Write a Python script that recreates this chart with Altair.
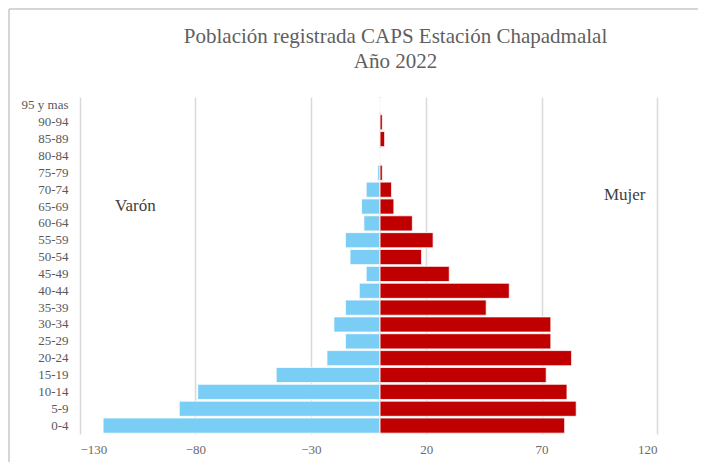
import altair as alt
import pandas as pd

ages = ["0-4", "5-9", "10-14", "15-19", "20-24", "25-29", "30-34", "35-39",
        "40-44", "45-49", "50-54", "55-59", "60-64", "65-69", "70-74", "75-79",
        "80-84", "85-89", "90-94", "95 y mas"]
varon = [-120, -87, -79, -45, -23, -15, -20, -15, -9, -6, -13, -15, -7, -8, -6, -1, 0, 0, 0, 0]
mujer = [80, 85, 81, 72, 83, 74, 74, 46, 56, 30, 18, 23, 14, 6, 5, 1, 0, 2, 1, 0]
x_ticks = [-130, -80, -30, 20, 70, 120]
title_lines = ["Población registrada CAPS Estación Chapadmalal", "Año 2022"]
labels_text = ["Varón", "Mujer"]
labels_x = [-106, 106]
labels_age = ["65-69", "70-74"]
labels_dy = [-1, 5]

rows = []
for a, v, m in zip(ages, varon, mujer):
    rows.append({"age": a, "sexo": "Varón", "valor": v})
    rows.append({"age": a, "sexo": "Mujer", "valor": m})
df = pd.DataFrame(rows)

order = list(reversed(ages))
W, H = 577, 337
FONT = "Liberation Serif"

xscale = alt.Scale(domain=[-130, 120], nice=False, zero=False)
yscale = alt.Scale(domain=order, paddingInner=0.1, paddingOuter=0.05)

bars = alt.Chart(df).mark_bar(stroke="white", strokeWidth=0.8).encode(
    x=alt.X("valor:Q", scale=xscale, stack=None,
            axis=alt.Axis(values=x_ticks, title=None, grid=True, gridColor="#d9d9d9",
                          gridWidth=1.5, domain=False, ticks=False, labelFont=FONT,
                          labelFontSize=13, labelColor="#6a6a6a", labelPadding=9)),
    y=alt.Y("age:N", sort=order, scale=yscale,
            axis=alt.Axis(title=None, domain=False, ticks=False, labelFont=FONT,
                          labelFontSize=13, labelColor="#595959", labelPadding=12)),
    color=alt.Color("sexo:N", scale=alt.Scale(domain=["Varón", "Mujer"],
                                              range=["#7ACDF5", "#C00000"]), legend=None),
)

zero = alt.Chart(pd.DataFrame({"z": [0]})).mark_rule(color="#d9d9d9", strokeWidth=1.5).encode(
    x=alt.X("z:Q", scale=xscale)
)

text_layers = []
for t, xv, ag, dy in zip(labels_text, labels_x, labels_age, labels_dy):
    d = pd.DataFrame({"t": [t], "x": [xv], "age": [ag]})
    text_layers.append(
        alt.Chart(d).mark_text(font=FONT, fontSize=17, color="#404040", align="center", dy=dy).encode(
            x=alt.X("x:Q", scale=xscale),
            y=alt.Y("age:N", sort=order, scale=yscale),
            text="t:N",
        )
    )

title_layers = []
for i, line in enumerate(title_lines):
    d = pd.DataFrame({"t": [line]})
    title_layers.append(
        alt.Chart(d).mark_text(font=FONT, fontSize=21, color="#5f5f5f", align="center",
                               baseline="middle").encode(
            x=alt.value(W / 2 + 27), y=alt.value(-60 + 25 * i), text="t:N"
        )
    )

border_top = alt.Chart(pd.DataFrame({"a": [0]})).mark_rule(color="#c8c8c8", strokeWidth=1.5).encode(
    x=alt.value(-71), x2=alt.value(W + 80), y=alt.value(-88)
)
border_left = alt.Chart(pd.DataFrame({"a": [0]})).mark_rule(color="#c8c8c8", strokeWidth=1.5).encode(
    x=alt.value(-71), y=alt.value(-88), y2=alt.value(H + 40)
)

chart = alt.layer(zero, bars, *text_layers, *title_layers, border_top, border_left).properties(
    width=W, height=H,
    autosize=alt.AutoSizeParams(type="none"),
    padding={"left": 72, "top": 89, "right": 690 - 72 - W, "bottom": 454 - 89 - H},
).configure(background="white", view=alt.ViewConfig(stroke=None))

chart.save("out.html", embed_options={"renderer": "svg", "actions": False})
